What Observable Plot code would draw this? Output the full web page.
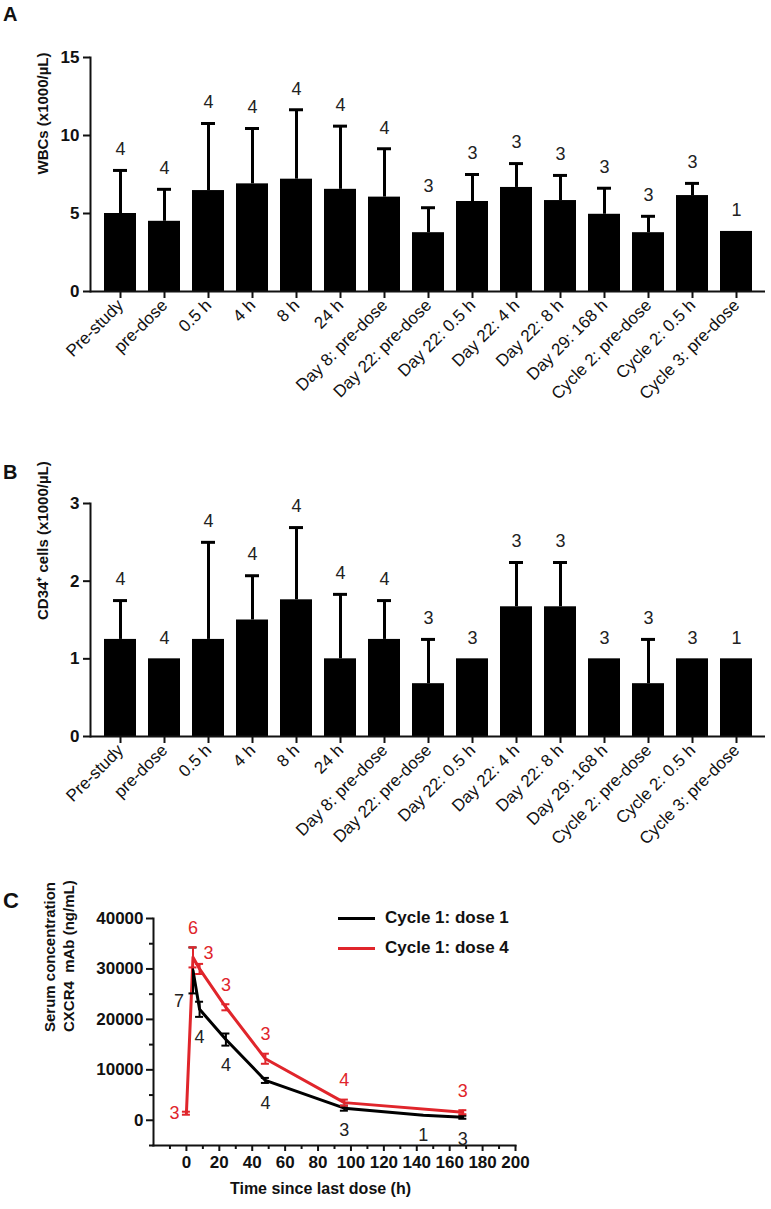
<!DOCTYPE html>
<html><head><meta charset="utf-8">
<script src="https://cdn.jsdelivr.net/npm/d3@7"></script>
<script src="https://cdn.jsdelivr.net/npm/@observablehq/plot@0.6"></script>
<style>
body{margin:0;background:#fff;}
#root{position:relative;width:771px;height:1209px;font-family:"Liberation Sans",Arial,sans-serif;overflow:hidden;background:#fff;color:#111;}
.panel{position:absolute;left:0;}
.letter{position:absolute;left:3px;font-weight:bold;line-height:1;}
.lg-line{position:absolute;left:338px;width:37px;height:3px;}
.lg-text{position:absolute;left:385px;font-weight:bold;font-size:17px;line-height:20px;white-space:pre;}
</style></head><body><div id="root"></div>
<script>
// ---------- data ----------
const timepoints = ["Pre-study","pre-dose","0.5 h","4 h","8 h","24 h","Day 8: pre-dose","Day 22: pre-dose","Day 22: 0.5 h","Day 22: 4 h","Day 22: 8 h","Day 29: 168 h","Cycle 2: pre-dose","Cycle 2: 0.5 h","Cycle 3: pre-dose"];
const wbcMean = [5.0,4.5,6.47,6.9,7.2,6.55,6.05,3.77,5.77,6.67,5.83,4.95,3.77,6.15,3.85];
const wbcErr  = [2.76,2.05,4.3,3.55,4.45,4.05,3.1,1.6,1.73,1.53,1.61,1.67,1.05,0.78,0];
const wbcN    = [4,4,4,4,4,4,4,3,3,3,3,3,3,3,1];
const wbcTicks = [0,5,10,15];
const cd34Mean = [1.25,1.0,1.25,1.5,1.76,1.0,1.25,0.68,1.0,1.67,1.67,1.0,0.68,1.0,1.0];
const cd34Err  = [0.5,0,1.25,0.57,0.93,0.83,0.5,0.57,0,0.57,0.57,0,0.57,0,0];
const cd34N    = [4,4,4,4,4,4,4,3,3,3,3,3,3,3,1];
const cd34Ticks = [0,1,2,3];

const dose1Time = [4,8,24,48,96,144,168];
const dose1Conc = [29700,22000,16000,7900,2400,1000,600];
const dose1Err  = [4550,1500,1200,500,500,0,300];
const dose1N    = [7,4,4,4,3,1,3];
const dose4Time = [0,4,8,24,48,96,168];
const dose4Conc = [1400,32300,30000,22400,12200,3500,1600];
const dose4Err  = [300,2000,1000,600,1000,600,400];
const dose4N    = [3,6,3,3,3,4,3];
const concTicks = [0,10000,20000,30000,40000];
const concMinor = [-5000,5000,15000,25000,35000];
const timeTicks = [0,20,40,60,80,100,120,140,160,180,200];
const timeMinor = [-10,10,30,50,70,90,110,130,150,170,190];

const RED = "#e0252b";
const FONT = "Liberation Sans, Arial, sans-serif";
const root = document.getElementById("root");

function place(el, top){ el.classList.add("panel"); el.style.top = top + "px"; root.appendChild(el); }

function barPanel(mean, err, n, yMax, yTicks, ylabel, height, mt, mb){
  const data = timepoints.map((t,i)=>({t, v:mean[i], e:err[i], n:n[i], top:mean[i]+err[i]}));
  const withErr = data.filter(d=>d.e>0);
  return Plot.plot({
    width:771, height, marginTop:mt, marginBottom:mb, marginLeft:90, marginRight:6,
    style:{fontFamily:FONT, fontSize:"16px", color:"#111", background:"transparent", overflow:"visible"},
    x:{domain:timepoints, insetLeft:8, insetRight:7, paddingInner:0.27, paddingOuter:0.135, label:null},
    y:{domain:[0,yMax], label:null},
    marks:[
      Plot.barY(data,{x:"t", y:"v", fill:"#000"}),
      Plot.ruleX(withErr,{x:"t", y1:"v", y2:"top", stroke:"#000", strokeWidth:3}),
      Plot.tickY(withErr,{x:"t", y:"top", stroke:"#000", strokeWidth:3, insetLeft:9, insetRight:9}),
      Plot.text(data,{x:"t", y:"top", text:d=>String(d.n), dy:-21, fontSize:18, fill:"#222"}),
      Plot.frame({anchor:"left", stroke:"#111", strokeWidth:2}),
      Plot.ruleY([0],{stroke:"#111", strokeWidth:2}),
      Plot.axisY({ticks:yTicks, tickFormat:d3.format("d"), tickSize:7, tickPadding:4, fontWeight:"bold", fontSize:17, strokeWidth:2, label:null}),
      Plot.axisX({tickSize:7, tickPadding:4, tickRotate:-45, fontSize:17, strokeWidth:2, label:null}),
      Plot.text([ylabel],{frameAnchor:"left", dx:-47, rotate:-90, fontWeight:"bold", fontSize:15})
    ]
  });
}

place(barPanel(wbcMean, wbcErr, wbcN, 15, wbcTicks, "WBCs (x1000/\u00b5L)", 420, 57, 129), 0);
place(barPanel(cd34Mean, cd34Err, cd34N, 3, cd34Ticks, "CD34\u207a cells (x1000/\u00b5L)", 420, 63, 124), 440);

// ---------- panel C ----------
const d1 = dose1Time.map((t,i)=>({t, v:dose1Conc[i], e:dose1Err[i], n:dose1N[i]}));
const d4 = dose4Time.map((t,i)=>({t, v:dose4Conc[i], e:dose4Err[i], n:dose4N[i]}));
const d1e = d1.filter(d=>d.e>0), d4e = d4.filter(d=>d.e>0);
const errMarks = (arr, color) => [
  Plot.ruleX(arr,{x:"t", y1:d=>d.v-d.e, y2:d=>d.v+d.e, stroke:color, strokeWidth:2}),
  Plot.ruleY(arr,{y:d=>d.v+d.e, x1:"t", x2:"t", insetLeft:-4, insetRight:-4, stroke:color, strokeWidth:2}),
  Plot.ruleY(arr,{y:d=>d.v-d.e, x1:"t", x2:"t", insetLeft:-4, insetRight:-4, stroke:color, strokeWidth:2})
];
const pc = Plot.plot({
  width:771, height:329, marginTop:38, marginBottom:64, marginLeft:153, marginRight:256,
  style:{fontFamily:FONT, fontSize:"16px", color:"#111", background:"transparent", overflow:"visible"},
  x:{domain:[-20,200], label:null},
  y:{domain:[-5000,40000], label:null},
  marks:[
    Plot.frame({anchor:"left", stroke:"#111", strokeWidth:2}),
    Plot.frame({anchor:"bottom", stroke:"#111", strokeWidth:2}),
    Plot.axisY({ticks:concTicks, tickFormat:d3.format("d"), tickSize:7, tickPadding:3, fontWeight:"bold", fontSize:17, strokeWidth:2, label:null}),
    Plot.axisY({ticks:concMinor, tickFormat:()=>"", tickSize:4, strokeWidth:2, label:null}),
    Plot.axisX({ticks:timeTicks, tickFormat:d3.format("d"), tickSize:6, tickPadding:4, fontWeight:"bold", fontSize:17, strokeWidth:2, label:null}),
    Plot.axisX({ticks:timeMinor, tickFormat:()=>"", tickSize:4, strokeWidth:2, label:null}),
    Plot.line(d1,{x:"t", y:"v", stroke:"#000", strokeWidth:3}),
    Plot.line(d4,{x:"t", y:"v", stroke:RED, strokeWidth:3}),
    ...errMarks(d1e, "#000"),
    ...errMarks(d4e, RED),
    // sample-size labels, dose 1 (below points)
    Plot.text(d1.filter((d,i)=>i>0),{x:"t", y:d=>d.v-d.e, text:d=>String(d.n), dy:20, fontSize:18, fill:"#222"}),
    Plot.text(d1.filter((d,i)=>i===0),{x:"t", y:d=>d.v-d.e, text:d=>String(d.n), dx:-14, dy:8, fontSize:18, fill:"#222"}),
    // dose 4 (above points)
    Plot.text(d4.filter((d,i)=>i!==0 && i!==2),{x:"t", y:d=>d.v+d.e, text:d=>String(d.n), dy:-19, fontSize:18, fill:RED}),
    Plot.text(d4.filter((d,i)=>i===2),{x:"t", y:d=>d.v+d.e, text:d=>String(d.n), dx:9, dy:-11, fontSize:18, fill:RED}),
    Plot.text(d4.filter((d,i)=>i===0),{x:"t", y:"v", text:d=>String(d.n), dx:-12, fontSize:18, fill:RED}),
    Plot.text(["Time since last dose (h)"],{frameAnchor:"bottom", dx:-14, dy:48, fontWeight:"bold", fontSize:16}),
    Plot.text(["Serum concentration\nCXCR4\u00a0 mAb (ng/mL)"],{frameAnchor:"left", dx:-95, rotate:-90, lineHeight:1.3, fontWeight:"bold", fontSize:15})
  ]
});
place(pc, 880);

// panel letters and legend
function addDiv(cls, css, text){ const d=document.createElement("div"); d.className=cls; Object.assign(d.style, css); if(text!=null) d.textContent=text; root.appendChild(d); return d; }
addDiv("letter",{top:"4px", fontSize:"20px"},"A");
addDiv("letter",{top:"462px", fontSize:"20px"},"B");
addDiv("letter",{top:"890px", fontSize:"22px"},"C");
addDiv("lg-line",{top:"917px", background:"#000"});
addDiv("lg-text",{top:"908px"},"Cycle 1: dose 1");
addDiv("lg-line",{top:"947px", background:RED});
addDiv("lg-text",{top:"938px"},"Cycle 1: dose 4");
</script></body></html>
